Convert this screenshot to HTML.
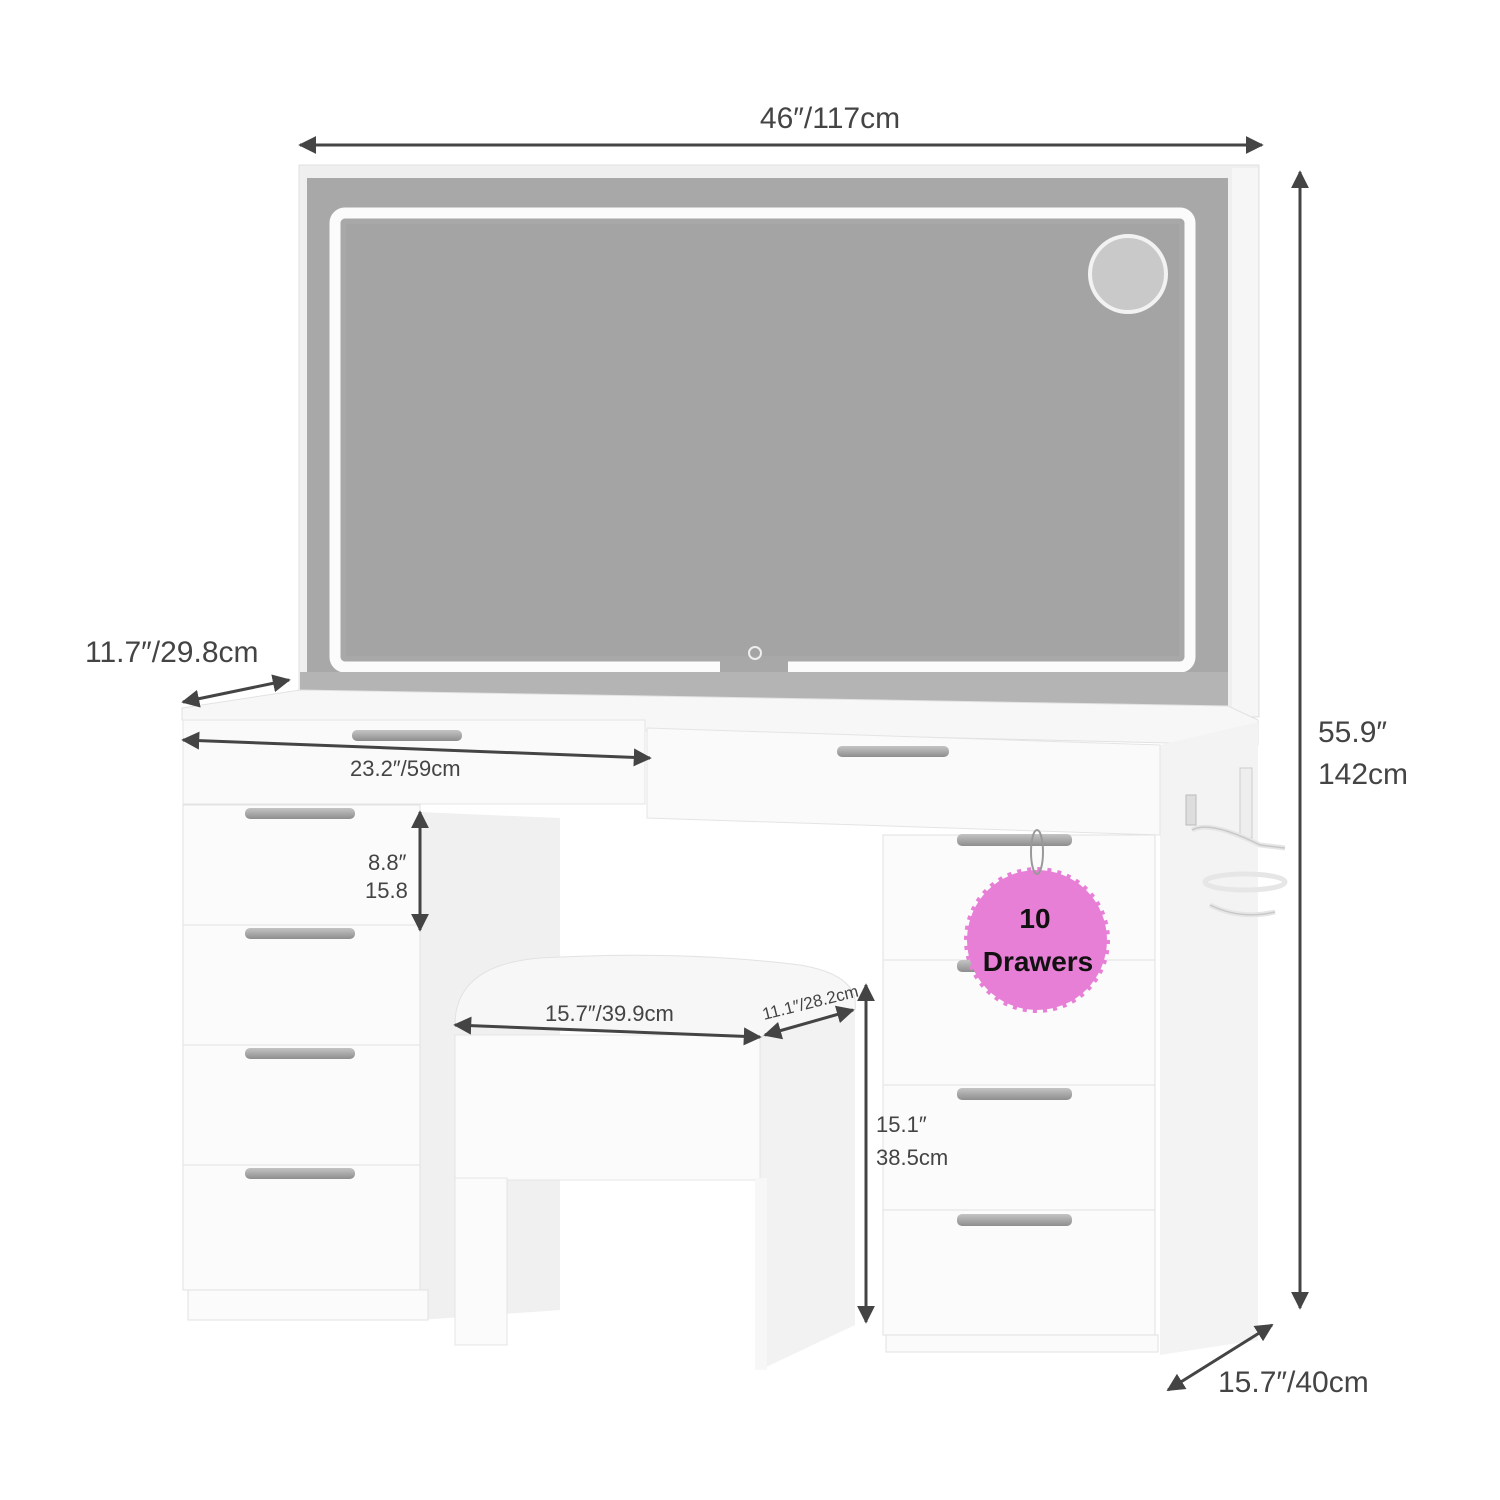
<!DOCTYPE html>
<html><head><meta charset="utf-8"><style>
html,body{margin:0;padding:0;background:#fff;}
svg{display:block}
text{font-family:"Liberation Sans","DejaVu Sans",sans-serif;fill:#444;}
</style></head><body>
<svg width="1500" height="1500" viewBox="0 0 1500 1500" xmlns="http://www.w3.org/2000/svg">
<defs>
<marker id="a" viewBox="0 0 10 10" refX="9" refY="5" markerWidth="6" markerHeight="6" orient="auto-start-reverse"><path d="M0,0 L10,5 L0,10 z" fill="#444"/></marker>
<linearGradient id="h" x1="0" y1="0" x2="0" y2="1"><stop offset="0" stop-color="#c4c4c4"/><stop offset="1" stop-color="#8e8e8e"/></linearGradient>
</defs>
<rect width="1500" height="1500" fill="#fff"/>

<!-- top width -->
<line x1="300" y1="145" x2="1262" y2="145" stroke="#444" stroke-width="3" marker-start="url(#a)" marker-end="url(#a)"/>
<text x="830" y="128" font-size="30" text-anchor="middle">46″/117cm</text>

<!-- mirror -->
<rect x="299" y="165" width="960" height="552" fill="#efefef" stroke="#e0e0e0"/>
<rect x="1232" y="168" width="26" height="548" fill="#f6f6f6"/>
<rect x="307" y="178" width="921" height="527" fill="#a8a8a8"/>
<rect x="335" y="213" width="855" height="454" rx="10" fill="none" stroke="#fbfbfb" stroke-width="11"/>
<rect x="720" y="655" width="68" height="18" fill="#a8a8a8"/>
<rect x="346" y="224" width="833" height="432" fill="#a4a4a4"/>
<circle cx="1128" cy="274" r="38" fill="#c9c9c9" stroke="#f2f2f2" stroke-width="4"/>
<circle cx="755" cy="653" r="6" fill="none" stroke="#eee" stroke-width="2"/>
<polygon points="300,672 1228,672 1228,706 300,706" fill="#b4b4b4"/>

<!-- desk top -->
<polygon points="182,708 300,690 1228,706 1258,720 1258,745 182,720" fill="#f7f7f7" stroke="#e2e2e2"/>
<!-- desk right side -->
<polygon points="1160,745 1258,722 1258,1340 1160,1355" fill="#f3f3f3"/>
<!-- top drawers -->
<rect x="183" y="720" width="462" height="84" fill="#fafafa" stroke="#e4e4e4"/>
<polygon points="647,728 1160,745 1160,835 647,818" fill="#fafafa" stroke="#e4e4e4"/>
<rect x="352" y="730" width="110" height="11" rx="5" fill="url(#h)"/>
<rect x="837" y="746" width="112" height="11" rx="5" fill="url(#h)"/>

<!-- left inner panel -->
<polygon points="420,812 560,818 560,1310 420,1320" fill="#f0f0f0"/>
<!-- left pedestal -->
<g fill="#fbfbfb" stroke="#e2e2e2">
<rect x="183" y="805" width="237" height="120"/>
<rect x="183" y="925" width="237" height="120"/>
<rect x="183" y="1045" width="237" height="120"/>
<rect x="183" y="1165" width="237" height="125"/>
<rect x="188" y="1290" width="240" height="30"/>
</g>
<g fill="url(#h)">
<rect x="245" y="808" width="110" height="11" rx="5"/>
<rect x="245" y="928" width="110" height="11" rx="5"/>
<rect x="245" y="1048" width="110" height="11" rx="5"/>
<rect x="245" y="1168" width="110" height="11" rx="5"/>
</g>

<!-- right pedestal -->
<g fill="#fbfbfb" stroke="#e2e2e2">
<rect x="883" y="835" width="272" height="125"/>
<rect x="883" y="960" width="272" height="125"/>
<rect x="883" y="1085" width="272" height="125"/>
<rect x="883" y="1210" width="272" height="125"/>
<rect x="886" y="1335" width="272" height="17"/>
</g>
<g fill="url(#h)">
<rect x="957" y="834" width="115" height="12" rx="5"/>
<rect x="957" y="960" width="115" height="12" rx="5"/>
<rect x="957" y="1088" width="115" height="12" rx="5"/>
<rect x="957" y="1214" width="115" height="12" rx="5"/>
</g>
<!-- outlets / dryer holder -->
<rect x="1240" y="768" width="12" height="70" fill="#eee" stroke="#ccc"/>
<rect x="1186" y="795" width="10" height="30" fill="#ddd" stroke="#bbb"/>
<g fill="none" stroke="#e6e6e6" stroke-width="5">
<path d="M1192,830 Q1210,820 1260,845 L1285,848"/>
<ellipse cx="1245" cy="882" rx="40" ry="8"/>
<path d="M1210,905 Q1240,920 1275,912"/>
</g>
<g fill="none" stroke="#c8c8c8" stroke-width="1.5">
<path d="M1192,830 Q1210,820 1260,845 L1285,848"/>
<path d="M1210,905 Q1240,920 1275,912"/>
</g>

<!-- stool -->
<polygon points="760,1035 855,1010 855,1325 760,1370" fill="#f2f2f2"/>
<rect x="455" y="1035" width="305" height="145" fill="#fbfbfb" stroke="#e4e4e4"/>
<rect x="455" y="1178" width="52" height="167" fill="#fbfbfb" stroke="#e4e4e4"/>
<rect x="755" y="1178" width="12" height="192" fill="#f7f7f7"/>
<path d="M455,1025 Q455,965 540,958 Q680,950 800,965 Q860,975 855,1010 L760,1037 Z" fill="#f7f7f7" stroke="#e2e2e2"/>

<!-- badge -->
<circle cx="1037" cy="940" r="70" fill="#e87fd6" stroke="#e87fd6" stroke-width="6" stroke-dasharray="4 6"/>
<ellipse cx="1037" cy="852" rx="6" ry="22" fill="none" stroke="#999" stroke-width="2"/>
<text x="1035" y="928" font-size="28" font-weight="bold" text-anchor="middle" style="fill:#111">10</text>
<text x="1038" y="971" font-size="28" font-weight="bold" text-anchor="middle" style="fill:#111">Drawers</text>

<!-- dimensions -->
<g stroke="#444" stroke-width="3" marker-start="url(#a)" marker-end="url(#a)">
<line x1="1300" y1="172" x2="1300" y2="1308"/>
<line x1="183" y1="702" x2="289" y2="680"/>
<line x1="183" y1="740" x2="650" y2="758"/>
<line x1="420" y1="812" x2="420" y2="930"/>
<line x1="455" y1="1025" x2="760" y2="1037"/>
<line x1="765" y1="1035" x2="853" y2="1010"/>
<line x1="866" y1="985" x2="866" y2="1322"/>
<line x1="1168" y1="1390" x2="1272" y2="1325"/>
</g>
<text x="1318" y="742" font-size="30">55.9″</text>
<text x="1318" y="784" font-size="30">142cm</text>
<text x="85" y="662" font-size="30">11.7″/29.8cm</text>
<text x="350" y="776" font-size="22">23.2″/59cm</text>
<text x="368" y="870" font-size="22">8.8″</text>
<text x="365" y="898" font-size="22">15.8</text>
<text x="545" y="1021" font-size="22">15.7″/39.9cm</text>
<text x="764" y="1020" font-size="17" transform="rotate(-14 764 1020)">11.1″/28.2cm</text>
<text x="876" y="1132" font-size="22">15.1″</text>
<text x="876" y="1165" font-size="22">38.5cm</text>
<text x="1218" y="1392" font-size="30">15.7″/40cm</text>
</svg>
</body></html>
